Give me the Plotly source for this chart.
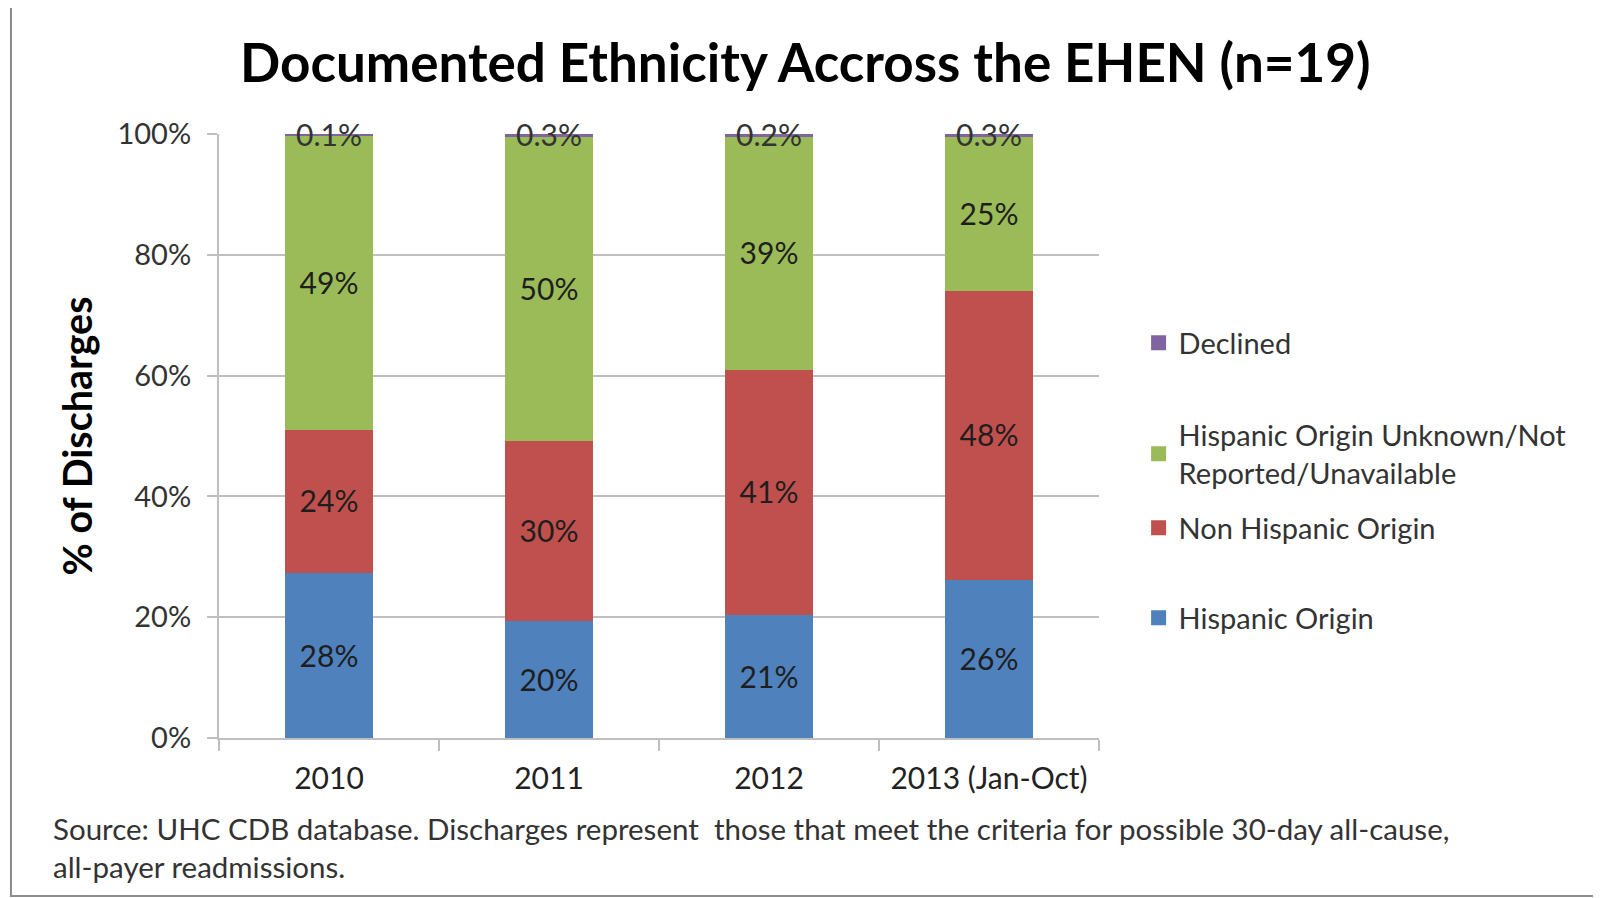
import plotly.graph_objects as go

years = ["2010", "2011", "2012", "2013 (Jan-Oct)"]
hispanic = [27.6, 19.6, 20.6, 26.4]
non_hispanic = [23.6, 29.8, 40.6, 47.9]
unknown = [48.7, 50.3, 38.6, 25.4]
declined = [0.1, 0.3, 0.2, 0.3]

series_names = ["Hispanic Origin", "Non Hispanic Origin",
                "Hispanic Origin Unknown/Not<br>Reported/Unavailable", "Declined"]
series_values = [hispanic, non_hispanic, unknown, declined]
colors = ["#4F81BD", "#C0504D", "#9BBB59", "#8064A2"]
legend_ids = ["legend4", "legend3", "legend2", "legend"]
legend_y = [0.199, 0.348, 0.470, 0.654]

FONT = "Lato"
fig = go.Figure()
for name, vals, col, lid in zip(series_names, series_values, colors, legend_ids):
    is_declined = name == "Declined"
    fig.add_trace(go.Bar(
        x=years, y=vals, name=name, marker=dict(color=col, line=dict(width=3, color=col)),
        legend=lid,
        texttemplate=None if is_declined else "%{y:.0f}%",
        textposition="none" if is_declined else "inside",
        insidetextanchor="middle", textangle=0,
        textfont=dict(family=FONT, size=30, color="#1e1e1e"),
        hoverinfo="skip",
    ))

totals = [round(h + n + u + d, 3) for h, n, u, d in zip(hispanic, non_hispanic, unknown, declined)]
for i, (tot, d) in enumerate(zip(totals, declined)):
    fig.add_annotation(x=i, y=tot, text=f"{d:.1f}%", showarrow=False,
                       xanchor="center", yanchor="middle",
                       font=dict(family=FONT, size=30, color="#333333"))

fig.add_annotation(xref="paper", yref="paper", x=-0.1905, y=-0.182,
                   xanchor="left", yanchor="middle", align="left", showarrow=False,
                   text="Source: UHC CDB database. Discharges represent  those that meet the criteria for possible 30-day all-cause,<br>all-payer readmissions.",
                   font=dict(family=FONT, size=29.5, color="#333333"))

fig.add_shape(type="rect", xref="paper", yref="paper",
              x0=-0.2364, x1=1.568, y0=-0.2616, y1=1.212,
              line=dict(color="#8c8c8c", width=2), fillcolor="rgba(0,0,0,0)", layer="below")

legend_common = dict(x=1.045, xanchor="left", yanchor="middle",
                     font=dict(family=FONT, size=29, color="#333333"),
                     bgcolor="rgba(0,0,0,0)", borderwidth=0)
layout_legends = {}
for lid, ly in zip(legend_ids, legend_y):
    layout_legends[lid] = dict(y=ly, **legend_common)

fig.update_layout(
    width=1601, height=898,
    margin=dict(l=211, r=510, t=126, b=168),
    paper_bgcolor="white", plot_bgcolor="white",
    barmode="stack", bargap=0.615,
    showlegend=True,
    title=dict(text="<b>Documented Ethnicity Accross the EHEN (n=19)</b>",
               x=0.498, xref="container", xanchor="center",
               y=1 - 55 / 898, yref="container", yanchor="middle",
               font=dict(family=FONT, size=53, color="black")),
    xaxis=dict(type="category", range=[-0.5, len(years) - 0.5],
               showline=True, linecolor="#bfbfbf", linewidth=2,
               ticks="outside", tickson="boundaries", ticklen=11, tickcolor="#bfbfbf",
               tickwidth=2, tickfont=dict(family=FONT, size=30, color="#222222"),
               showgrid=False, ticklabelstandoff=13, tickangle=0),
    yaxis=dict(range=[0, 100], dtick=20, ticksuffix="%", showline=True,
               linecolor="#bfbfbf", linewidth=2, ticks="outside", ticklen=10,
               tickcolor="#bfbfbf", tickwidth=2, showgrid=True, gridcolor="#bfbfbf",
               gridwidth=2, zeroline=False,
               tickfont=dict(family=FONT, size=29, color="#333333"),
               ticklabelstandoff=10,
               title=dict(text="<b>% of Discharges</b>", standoff=13,
                          font=dict(family=FONT, size=39.5, color="black"))),
    **layout_legends,
)

fig.write_html("out.html")
